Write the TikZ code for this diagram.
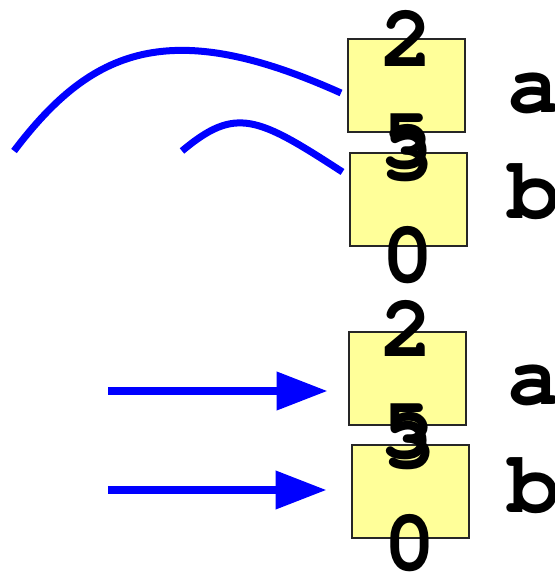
\documentclass[tikz,border=0pt]{standalone}
\usepackage[T1]{fontenc}
\usetikzlibrary{arrows.meta,calc}
\newcommand{\courb}{\fontencoding{T1}\fontfamily{pcr}\fontseries{b}\selectfont}
\definecolor{boxyellow}{RGB}{255,255,153}
\definecolor{lineblue}{RGB}{0,0,255}
\tikzset{
 cell/.style={draw=black!85, line width=2pt, fill=boxyellow, minimum width=117pt, minimum height=93pt, inner sep=0pt, outer sep=0pt},
 val/.style={font=\courb\fontsize{88}{102}\selectfont, align=center, inner sep=0pt},
 lbl/.style={font=\courb\fontsize{88}{100}\selectfont, anchor=base west, inner sep=0pt},
 link/.style={draw=lineblue, line width=7pt},
 arr/.style={draw=lineblue, line width=7.5pt, -{Triangle[length=51pt,width=37pt]}},
}
\begin{document}
\begin{tikzpicture}[x=1pt,y=-1pt]
\useasboundingbox (0,0) rectangle (554,572);
% boxes
\node[cell] (a1box) at (406.5,85.5) {};
\node[cell] (b1box) at (408,199.5) {};
\node[cell] (a2box) at (407,378) {};
\node[cell] (b2box) at (410,491.5) {};
% values
\node[val] (a1val) at ($(a1box.center)+(0,5)$) {2\\5};
\node[val] (b1val) at ($(b1box.center)+(0,5)$) {3\\0};
\node[val] (a2val) at ($(a2box.center)+(0,3)$) {2\\5};
\node[val] (b2val) at ($(b2box.center)+(0,1)$) {3\\0};
% labels
\node[lbl] (a1lbl) at (507,113) {a};
\node[lbl] (b1lbl) at (507,218) {b};
\node[lbl] (a2lbl) at (507,404) {a};
\node[lbl] (b2lbl) at (507,512) {b};
% curves
\coordinate (c1) at (14,151);
\coordinate (c2) at (182,151);
\draw[link] (c1) .. controls (92,48) and (170,16) .. ($(a1box.west)+(-7,7.5)$);
\draw[link] (c2) .. controls (235.6,106) and (257.1,116.5) .. ($(b1box.north west)+(-7,19)$);
% arrows
\coordinate (s1) at (108,391);
\coordinate (s2) at (108,490);
\draw[arr] (s1) -- ($(a2box.west)+(-21,13)$);
\draw[arr] (s2) -- ($(b2box.west)+(-25,-1.5)$);
\end{tikzpicture}
\end{document}
